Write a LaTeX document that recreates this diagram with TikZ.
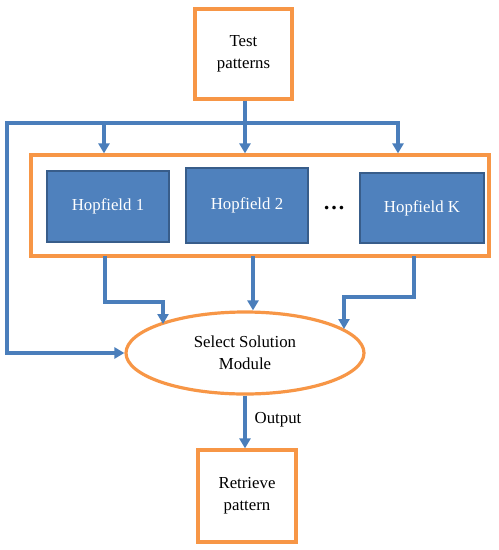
\documentclass[tikz,border=0pt]{standalone}
\usepackage{fontspec}
\setmainfont{Liberation Serif}
\usetikzlibrary{arrows.meta,shapes.geometric}
\definecolor{org}{HTML}{F79646}
\definecolor{hblue}{HTML}{4F81BD}
\definecolor{hdark}{HTML}{385D8A}
\definecolor{lblue}{HTML}{4A7EBB}
\tikzset{
  obox/.style={draw=org,line width=3.2pt,fill=white,align=center,inner sep=0pt},
  hbox/.style={draw=hdark,line width=2.2pt,fill=hblue,text=white,inner sep=0pt},
  wire/.style={draw=lblue,line width=3.6pt},
  arr/.style={wire,-{Triangle[width=11pt,length=10pt]}},
}
\begin{document}
\begin{tikzpicture}[x=1pt,y=-1pt,font=\fontsize{16.8}{22}\selectfont]
\useasboundingbox (0,0) rectangle (499,550);
\node[obox,minimum width=97pt,minimum height=90pt] (test) at (243.5,54) {Test\\patterns};
\node[obox,minimum width=458pt,minimum height=101pt] (big) at (260,205.5) {};
\node[hbox,minimum width=122pt,minimum height=71pt] (h1) at (108,206.5) {Hopfield 1};
\node[hbox,minimum width=122pt,minimum height=75pt] (h2) at (247,205.5) {Hopfield 2};
\node[hbox,minimum width=124pt,minimum height=70pt] (hk) at (422,208) {Hopfield K};
\node[font=\fontsize{22}{22}\selectfont] (dots) at (334,208) {\textbf{\dots}};
\node[obox,ellipse,minimum width=238pt,minimum height=82pt] (sel) at (245,353) {Select Solution\\Module};
\node[obox,minimum width=98pt,minimum height=92pt] (ret) at (247,496) {Retrieve\\pattern};
\node (out) at (278,420) {Output};
% junctions
\coordinate (jt) at (245,123);
\coordinate (jl) at (7,123);
\coordinate (jr) at (398,123);
\coordinate (a1) at (104,123);
\draw[wire] (test.south -| jt) -- (jt);
\draw[wire,line cap=rect] (jl) -- (jr);
\draw[arr] (a1) -- (a1 |- big.north);
\draw[arr] (jt) -- (jt |- big.north);
\draw[arr] (jr) -- (jr |- big.north);
\draw[arr,line join=miter] (jl) |- (sel.west);
% to select module
\coordinate (b1) at (105,256);
\coordinate (e1) at (163,324);
\draw[arr] (b1) |- (e1 |- 0,302) -- (e1);
\coordinate (b2) at (253,256);
\draw[arr] (b2) -- (b2 |- sel.north);
\coordinate (bk) at (414,256);
\coordinate (ek) at (344,329);
\draw[arr] (bk) |- (ek |- 0,297) -- (ek);
\draw[arr] (sel.south) -- (sel.south |- ret.north);
\end{tikzpicture}
\end{document}
